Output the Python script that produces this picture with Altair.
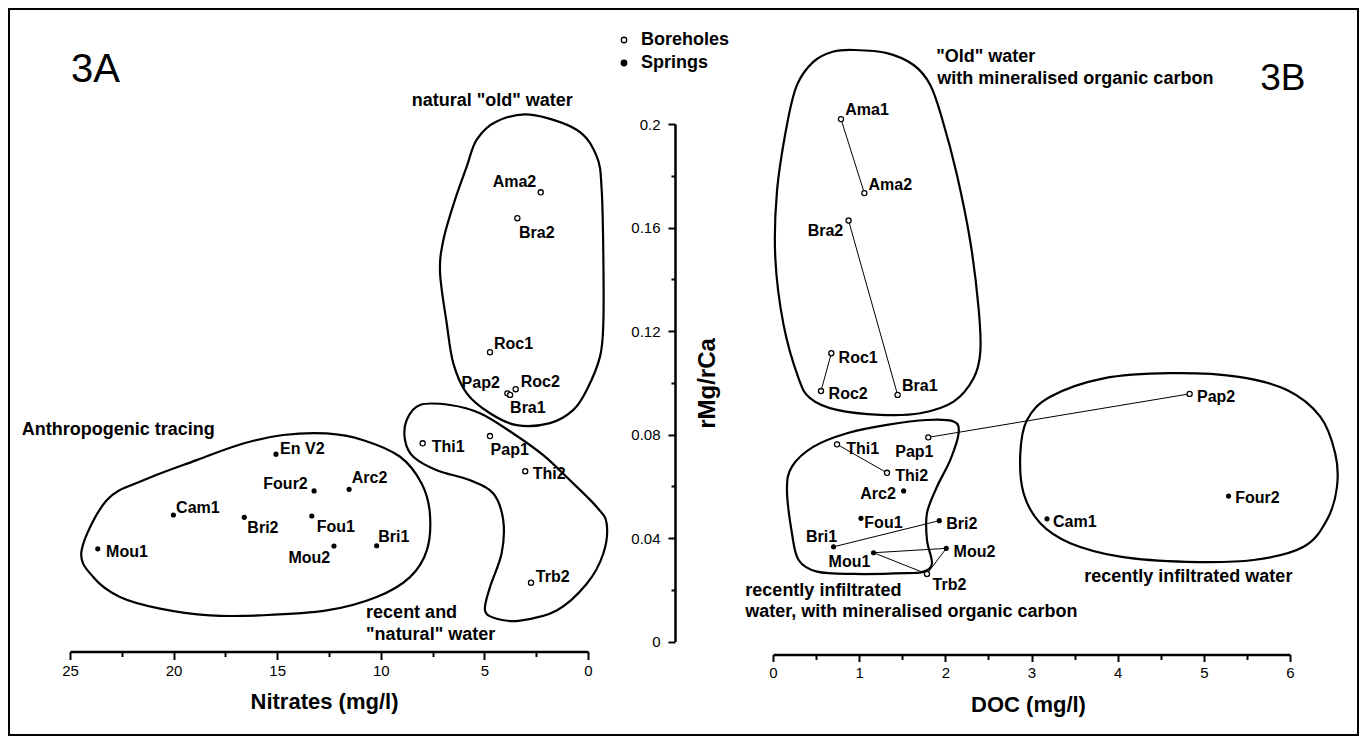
import altair as alt
import pandas as pd

FONT = "Liberation Sans"

# ---------------- data: panel 3A (Nitrates vs rMg/rCa) ----------------
a_names = ["Ama2", "Bra2", "Roc1", "Pap2", "Roc2", "Bra1", "Thi1", "Pap1", "Thi2", "Trb2",
           "Mou1", "Cam1", "En V2", "Four2", "Arc2", "Bri2", "Fou1", "Mou2", "Bri1"]
a_type = ["Boreholes"] * 10 + ["Springs"] * 9
a_nitrates = [2.28, 3.41, 4.73, 3.89, 3.49, 3.76, 7.98, 4.73, 3.03, 2.75,
              23.66, 20.01, 15.06, 13.22, 11.53, 16.59, 13.33, 12.26, 10.20]
a_ratio = [0.1736, 0.1636, 0.1118, 0.0959, 0.0975, 0.0953, 0.0766, 0.0794, 0.0658, 0.0227,
           0.0358, 0.0489, 0.0724, 0.0582, 0.0588, 0.0480, 0.0485, 0.0369, 0.0370]
# label anchors (data units)
a_lab_x = [4.60, 3.33, 4.54, 6.10, 3.25, 3.76, 7.54, 4.70, 2.67, 2.52,
           23.26, 19.88, 14.86, 15.67, 11.40, 16.44, 13.09, 14.46, 10.12]
a_lab_y = [0.1756, 0.1560, 0.1131, 0.0979, 0.0985, 0.0882, 0.0734, 0.0721, 0.0627, 0.0231,
           0.0328, 0.0496, 0.0725, 0.0588, 0.0612, 0.0418, 0.0424, 0.0302, 0.0386]

# enclosing outlines, panel 3A
old_a_x = [2.80, 0.55, -0.42, -0.66, -0.74, -0.74, -0.58, 0.06, 0.72, 1.83, 3.44, 4.73, 5.85,
           6.50, 6.82, 7.14, 6.98, 6.42, 5.85, 5.37, 4.41]
old_a_y = [0.2036, 0.1978, 0.1875, 0.1746, 0.1488, 0.1231, 0.1101, 0.0972, 0.0894, 0.0844,
           0.0836, 0.0882, 0.0959, 0.1075, 0.1230, 0.1425, 0.1552, 0.1707, 0.1836, 0.1940, 0.2010]
anthro_x = [24.44, 23.23, 21.46, 18.89, 16.64, 14.71, 12.61, 10.84, 9.07, 8.03, 7.63, 7.78,
            8.59, 10.20, 12.61, 15.83, 18.24, 20.66, 22.59, 23.88]
anthro_y = [0.0352, 0.0546, 0.0623, 0.0701, 0.0765, 0.0798, 0.0804, 0.0778, 0.0714, 0.0611,
            0.0494, 0.0352, 0.0249, 0.0172, 0.0120, 0.0101, 0.0101, 0.0127, 0.0172, 0.0249]
recent_x = [8.11, 8.75, 8.83, 8.43, 7.30, 5.69, 4.57, 4.09, 4.17, 4.73, 4.97, 4.41, 3.28, 1.51,
            0.06, -0.74, -0.90, -0.42, 0.87, 2.16, 3.61, 5.21, 6.66]
recent_y = [0.0914, 0.0856, 0.0778, 0.0714, 0.0662, 0.0623, 0.0572, 0.0468, 0.0340, 0.0210,
            0.0120, 0.0088, 0.0081, 0.0120, 0.0223, 0.0340, 0.0456, 0.0520, 0.0623, 0.0720,
            0.0804, 0.0882, 0.0914]

a_notes = ["natural \"old\" water", "Anthropogenic tracing", "recent and", "\"natural\" water"]
a_notes_x = [8.51, 27.33, 10.71, 10.71]
a_notes_y = [0.2070, 0.0797, 0.0091, 0.0006]
a_panel = ["3A"]
a_panel_x = [24.95]
a_panel_y = [0.2163]

# ---------------- data: panel 3B (DOC vs rMg/rCa) ----------------
b_names = ["Ama1", "Ama2", "Bra2", "Roc1", "Roc2", "Bra1", "Pap1", "Pap2", "Thi1", "Thi2", "Trb2",
           "Arc2", "Fou1", "Bri2", "Bri1", "Mou1", "Mou2", "Four2", "Cam1"]
b_type = ["Boreholes"] * 11 + ["Springs"] * 8
b_doc = [0.789, 1.060, 0.877, 0.677, 0.557, 1.446, 1.802, 4.835, 0.743, 1.323, 1.787,
         1.516, 1.021, 1.930, 0.703, 1.167, 2.011, 5.287, 3.180]
b_ratio = [0.2019, 0.1733, 0.1627, 0.1114, 0.0968, 0.0953, 0.0789, 0.0957, 0.0762, 0.0652, 0.0261,
           0.0582, 0.0476, 0.0467, 0.0366, 0.0343, 0.0360, 0.0562, 0.0474]
b_lab_x = [0.839, 1.109, 0.402, 0.761, 0.645, 1.497, 1.419, 4.921, 0.851, 1.419, 1.852,
           1.013, 1.060, 2.011, 0.383, 0.645, 2.096, 5.365, 3.249]
b_lab_y = [0.2035, 0.1745, 0.1569, 0.1078, 0.0937, 0.0969, 0.0714, 0.0925, 0.0725, 0.0620, 0.0199,
           0.0550, 0.0438, 0.0434, 0.0386, 0.0289, 0.0328, 0.0534, 0.0444]
b_links_from = ["Ama1", "Bra2", "Roc1", "Pap1", "Thi1", "Bri1", "Mou1", "Mou1", "Trb2"]
b_links_to = ["Ama2", "Bra1", "Roc2", "Pap2", "Thi2", "Bri2", "Mou2", "Trb2", "Mou2"]

old_b_x = [0.935, 1.323, 1.632, 1.825, 1.961, 2.135, 2.290, 2.386, 2.406, 2.328, 2.096, 1.709,
           1.245, 0.743, 0.433, 0.297, 0.123, 0.027, 0.046, 0.162, 0.279, 0.471, 0.703]
old_b_y = [0.2286, 0.2274, 0.2228, 0.2151, 0.2022, 0.1803, 0.1545, 0.1288, 0.1120, 0.1017,
           0.0927, 0.0882, 0.0876, 0.0895, 0.0940, 0.1017, 0.1223, 0.1481, 0.1739, 0.1997,
           0.2151, 0.2241, 0.2280]
moc_x = [2.096, 2.154, 2.058, 1.903, 1.787, 1.787, 1.845, 1.748, 1.555, 0.935, 0.511, 0.297,
         0.220, 0.162, 0.220, 0.471, 0.859, 1.323, 1.787]
moc_y = [0.0850, 0.0805, 0.0702, 0.0598, 0.0496, 0.0392, 0.0302, 0.0270, 0.0264, 0.0261, 0.0270,
         0.0315, 0.0418, 0.0586, 0.0676, 0.0753, 0.0805, 0.0837, 0.0856]
recb_x = [4.611, 5.385, 5.965, 6.351, 6.525, 6.545, 6.429, 6.158, 5.577, 4.804, 4.030, 3.450,
          3.102, 2.908, 2.870, 2.948, 3.218, 3.837]
recb_y = [0.1037, 0.1024, 0.0972, 0.0869, 0.0727, 0.0598, 0.0470, 0.0366, 0.0315, 0.0308,
          0.0328, 0.0380, 0.0457, 0.0573, 0.0727, 0.0856, 0.0946, 0.1017]

b_notes = ["\"Old\" water", "with mineralised organic carbon", "recently infiltrated",
           "water, with mineralised organic carbon", "recently infiltrated water"]
b_notes_x = [1.895, 1.907, -0.321, -0.321, 3.613]
b_notes_y = [0.2239, 0.2154, 0.0176, 0.0096, 0.0231]
b_panel = ["3B"]
b_panel_x = [5.655]
b_panel_y = [0.2132]

# ticks
nitrate_ticks = [0, 2.5, 5, 7.5, 10, 12.5, 15, 17.5, 20, 22.5, 25]
doc_ticks = [0, 0.5, 1, 1.5, 2, 2.5, 3, 3.5, 4, 4.5, 5, 5.5, 6]
ratio_ticks = [0, 0.02, 0.04, 0.06, 0.08, 0.1, 0.12, 0.14, 0.16, 0.18, 0.2]

# ---------------- tables ----------------
df_a = pd.DataFrame({"name": a_names, "type": a_type, "x": a_nitrates, "y": a_ratio,
                     "lx": a_lab_x, "ly": a_lab_y})
df_b = pd.DataFrame({"name": b_names, "type": b_type, "x": b_doc, "y": b_ratio,
                     "lx": b_lab_x, "ly": b_lab_y})


def outline(xs, ys, name):
    return pd.DataFrame({"x": xs, "y": ys, "blob": name, "order": list(range(len(xs)))})


blobs_a = pd.concat([outline(old_a_x, old_a_y, "old"), outline(anthro_x, anthro_y, "anthro"),
                     outline(recent_x, recent_y, "recent")])
blobs_b = pd.concat([outline(old_b_x, old_b_y, "old"), outline(moc_x, moc_y, "moc"),
                     outline(recb_x, recb_y, "rec")])

pos_b = {n: (x, y) for n, x, y in zip(b_names, b_doc, b_ratio)}
links_b = pd.DataFrame({
    "x1": [pos_b[f][0] for f in b_links_from], "y1": [pos_b[f][1] for f in b_links_from],
    "x2": [pos_b[t][0] for t in b_links_to], "y2": [pos_b[t][1] for t in b_links_to],
})

notes_a = pd.DataFrame({"text": a_notes, "x": a_notes_x, "y": a_notes_y})
notes_b = pd.DataFrame({"text": b_notes, "x": b_notes_x, "y": b_notes_y})
panel_a = pd.DataFrame({"text": a_panel, "x": a_panel_x, "y": a_panel_y})
panel_b = pd.DataFrame({"text": b_panel, "x": b_panel_x, "y": b_panel_y})

# ---------------- scales & axes ----------------
sx_a = alt.Scale(domain=[0, 25], reverse=True, nice=False, zero=False)
sx_b = alt.Scale(domain=[0, 6], nice=False, zero=False)
sy = alt.Scale(domain=[0, 0.2], nice=False, zero=False)

common_axis = dict(grid=False, domainColor="black", tickColor="black", tickWidth=2,
                   labelFont=FONT, labelFontSize=15, labelColor="black", labelOverlap=False,
                   labelFlush=False, titleFont=FONT, titleFontWeight="bold", titleColor="black")

axis_xa = alt.Axis(values=nitrate_ticks,
                   labelExpr="datum.value % 5 === 0 ? format(datum.value, 'd') : ''",
                   title="Nitrates (mg/l)", offset=10, domainWidth=2.5,
                   tickSize={"condition": {"test": "datum.value % 5 === 0", "value": 8}, "value": 5},
                   labelPadding=4, titleFontSize=22, titleX=254, titleY=57,
                   titleBaseline="alphabetic", titleAlign="center", **common_axis)
axis_xb = alt.Axis(values=doc_ticks,
                   labelExpr="datum.value % 1 === 0 ? format(datum.value, 'd') : ''",
                   title="DOC (mg/l)", offset=13, domainWidth=2.5,
                   tickSize={"condition": {"test": "datum.value % 1 === 0", "value": 7}, "value": 5},
                   labelPadding=4, titleFontSize=22, titleX=255, titleY=57,
                   titleBaseline="alphabetic", titleAlign="center", **common_axis)
axis_y = alt.Axis(values=ratio_ticks,
                  labelExpr="round(datum.value * 100) % 4 === 0 ? format(datum.value, '.2~f') : ''",
                  orient="left", offset=98, domainWidth=2.5, title="rMg/rCa",
                  tickSize={"condition": {"test": "round(datum.value * 100) % 4 === 0", "value": 7},
                            "value": 4},
                  labelPadding=8, titleFontSize=24, titleAngle=270, titleX=39, titleY=259,
                  titleBaseline="alphabetic", titleAlign="center", **common_axis)


def XA(field):
    return alt.X(field, type="quantitative", scale=sx_a, axis=axis_xa)


def XB(field):
    return alt.X(field, type="quantitative", scale=sx_b, axis=axis_xb)


def YA(field):
    return alt.Y(field, type="quantitative", scale=sy, axis=None)


def YB(field):
    return alt.Y(field, type="quantitative", scale=sy, axis=axis_y)


def text_layer(df, X, Y, size, weight):
    return alt.Chart(df).mark_text(align="left", baseline="alphabetic", font=FONT,
                                   fontSize=size, fontWeight=weight, color="black").encode(
        x=X("x"), y=Y("y"), text="text:N")


# ---------------- panel 3A ----------------
frame = alt.Chart(alt.Data(values=[{"f": 1}])).mark_rect(
    fillOpacity=0, stroke="black", strokeWidth=2
).encode(x=alt.value(-61), x2=alt.value(1288), y=alt.value(-115), y2=alt.value(611))

outl_a = alt.Chart(blobs_a).mark_line(interpolate="cardinal-closed", color="black",
                                      strokeWidth=2.2).encode(
    x=XA("x"), y=YA("y"), detail="blob:N", order="order:Q")

pts_a = alt.Chart(df_a).mark_point(shape="circle", filled=True, stroke="black",
                                   strokeWidth=1.3, opacity=1).encode(
    x=XA("x"), y=YA("y"),
    fill=alt.condition("datum.type === 'Springs'", alt.value("black"), alt.value("white")),
    size=alt.condition("datum.type === 'Springs'", alt.value(15), alt.value(26)))

lab_a = alt.Chart(df_a).mark_text(align="left", baseline="alphabetic", font=FONT, fontSize=16,
                                  fontWeight="bold", color="black").encode(
    x=XA("lx"), y=YA("ly"), text="name:N")

left = alt.layer(frame, outl_a, pts_a, lab_a,
                 text_layer(notes_a, XA, YA, 18, "bold"),
                 text_layer(panel_a, XA, YA, 40, "normal")).properties(width=518, height=517.5)

# ---------------- panel 3B ----------------
outl_b = alt.Chart(blobs_b).mark_line(interpolate="cardinal-closed", color="black",
                                      strokeWidth=2.2).encode(
    x=XB("x"), y=YB("y"), detail="blob:N", order="order:Q")

links = alt.Chart(links_b).mark_rule(color="black", strokeWidth=1).encode(
    x=XB("x1"), y=YB("y1"), x2="x2:Q", y2="y2:Q")

pts_b = alt.Chart(df_b).mark_point(shape="circle", filled=True, stroke="black",
                                   strokeWidth=1.3, opacity=1).encode(
    x=XB("x"), y=YB("y"),
    fill=alt.Fill("type:N", scale=alt.Scale(domain=["Boreholes", "Springs"],
                                            range=["white", "black"]),
                  legend=alt.Legend(title=None, orient="none", legendX=545, legendY=-93,
                                    labelFont=FONT, labelFontSize=18, labelFontWeight="bold",
                                    labelColor="black", symbolType="circle", symbolSize=30,
                                    symbolStrokeColor="black", symbolStrokeWidth=1.3,
                                    labelOffset=8, rowPadding=5, padding=0)),
    size=alt.condition("datum.type === 'Springs'", alt.value(15), alt.value(26)))

lab_b = alt.Chart(df_b).mark_text(align="left", baseline="alphabetic", font=FONT, fontSize=16,
                                  fontWeight="bold", color="black").encode(
    x=XB("lx"), y=YB("ly"), text="name:N")

right = alt.layer(outl_b, links, pts_b, lab_b,
                  text_layer(notes_b, XB, YB, 18, "bold"),
                  text_layer(panel_b, XB, YB, 37, "normal")).properties(width=517, height=517.5)

chart = alt.hconcat(left, right, spacing=185, bounds="flush").properties(
    padding=0, background="white"
).configure_view(stroke=None)

chart.save("out.html", embed_options={"renderer": "svg", "actions": False})
